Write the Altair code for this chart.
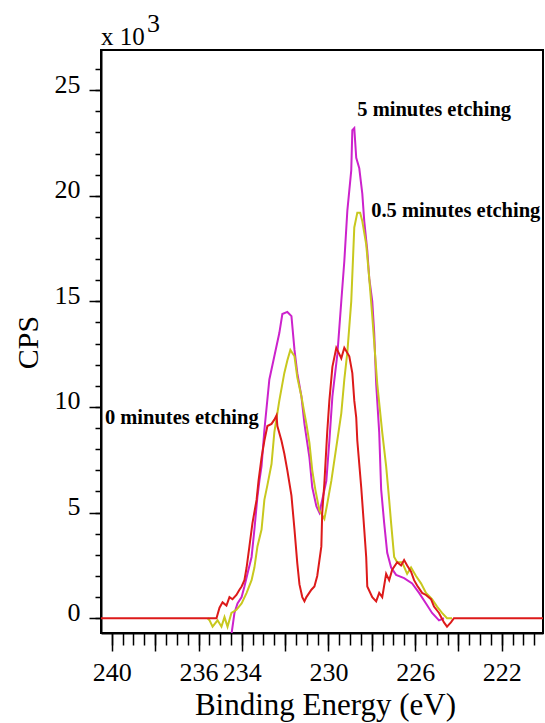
import altair as alt
import pandas as pd

# XPS spectra: (binding energy in eV, counts per second in thousands)
red_0min = [
    (240.5, 0), (235.17, 0), (235.03, 0.5), (234.89, 0.75), (234.71, 0.6),
    (234.57, 1.0), (234.43, 0.9), (234.25, 1.1), (234.11, 1.35), (234.01, 1.5),
    (233.88, 1.8), (233.78, 2.4), (233.65, 3.4), (233.51, 4.5), (233.32, 5.6),
    (233.23, 6.5), (233.09, 7.6), (232.96, 8.4), (232.82, 9.1), (232.63, 9.2),
    (232.50, 9.4), (232.40, 9.6), (232.36, 9.1), (232.17, 8.4), (232.04, 7.8),
    (231.90, 7.0), (231.71, 5.8), (231.57, 4.2), (231.44, 2.6), (231.34, 1.6),
    (231.21, 1.0), (231.11, 0.8), (231.02, 1.0), (230.79, 1.35), (230.65, 1.5),
    (230.52, 2.0), (230.33, 3.4), (230.29, 5.0), (230.19, 6.4), (230.06, 8.8),
    (229.96, 10.3), (229.82, 11.9), (229.64, 12.8), (229.50, 12.5), (229.41, 12.3),
    (229.27, 12.8), (229.04, 12.4), (228.90, 11.6), (228.81, 10.3), (228.72, 9.5),
    (228.67, 8.4), (228.49, 6.2), (228.35, 4.2), (228.26, 2.9), (228.21, 1.5),
    (227.98, 1.0), (227.80, 0.8), (227.66, 1.2), (227.52, 1.0), (227.34, 2.1),
    (227.20, 1.8), (227.06, 2.3), (226.83, 2.65), (226.65, 2.5), (226.51, 2.75),
    (226.37, 2.5), (226.19, 2.2), (226.05, 1.8), (225.91, 1.55), (225.68, 1.2),
    (225.50, 1.1), (225.27, 0.9), (225.13, 0.55), (224.90, 0.25), (224.67, -0.2),
    (224.53, -0.4), (224.35, -0.2), (224.21, 0), (220.1, 0),
]

yellow_05min = [
    (235.58, 0), (235.49, -0.1), (235.35, -0.4), (235.12, -0.1), (234.94, -0.4),
    (234.80, 0.05), (234.66, -0.4), (234.48, 0.25), (234.25, 0.4), (234.01, 0.7),
    (233.78, 1.2), (233.55, 1.8), (233.42, 2.4), (233.28, 3.4), (233.09, 4.2),
    (232.96, 5.6), (232.82, 6.3), (232.63, 7.3), (232.50, 8.8), (232.27, 10.3),
    (232.04, 11.6), (231.90, 12.2), (231.76, 12.7), (231.57, 12.4), (231.44, 11.4),
    (231.25, 10.5), (231.11, 9.7), (231.02, 9.2), (230.88, 8.3), (230.75, 7.0),
    (230.61, 6.1), (230.42, 5.1), (230.19, 4.7), (230.06, 5.4), (229.87, 6.5),
    (229.64, 8.1), (229.41, 9.7), (229.27, 11.3), (229.13, 12.6), (228.95, 15.0),
    (228.81, 18.5), (228.67, 19.2), (228.54, 19.2), (228.44, 18.8), (228.26, 17.7),
    (228.12, 16.1), (227.98, 14.3), (227.75, 11.1), (227.52, 8.8), (227.34, 7.2),
    (227.20, 5.6), (227.11, 4.5), (226.97, 2.9), (226.83, 2.65), (226.60, 2.65),
    (226.37, 2.1), (226.19, 2.4), (225.96, 2.0), (225.73, 1.65), (225.50, 1.2),
    (225.22, 0.9), (224.99, 0.55), (224.76, 0.25), (224.53, 0), (224.30, 0),
]

magenta_5min = [
    (234.47, -0.7), (234.34, 0.25), (234.20, 0.7), (234.01, 1.0), (233.88, 1.5),
    (233.74, 2.1), (233.55, 2.9), (233.42, 4.2), (233.28, 5.75), (233.19, 6.5),
    (233.09, 7.2), (232.96, 8.9), (232.73, 11.3), (232.50, 12.4), (232.27, 13.5),
    (232.13, 14.4), (231.90, 14.5), (231.71, 14.3), (231.57, 12.7), (231.44, 11.6),
    (231.25, 10.5), (231.11, 9.2), (230.88, 7.6), (230.75, 6.2), (230.56, 5.3),
    (230.42, 5.0), (230.29, 5.6), (230.10, 6.5), (229.96, 8.4), (229.82, 10.5),
    (229.59, 12.5), (229.41, 15.0), (229.27, 16.9), (229.13, 19.3), (228.95, 21.2),
    (228.90, 23.1), (228.81, 23.2), (228.72, 21.8), (228.58, 21.3), (228.44, 20.1),
    (228.35, 18.8), (228.21, 17.4), (228.12, 16.1), (227.98, 15.0), (227.89, 13.5),
    (227.80, 11.1), (227.66, 8.8), (227.57, 6.1), (227.43, 4.5), (227.29, 3.1),
    (227.11, 2.4), (226.88, 2.05), (226.51, 1.9), (226.14, 1.65), (225.82, 1.2),
    (225.50, 0.7), (225.22, 0.25), (224.90, -0.1), (224.67, 0),
]

series_names = ["5 minutes etching", "0.5 minutes etching", "0 minutes etching"]
series_colors = ["#CC22CC", "#C8C81E", "#DD1A1A"]
series_data = [magenta_5min, yellow_05min, red_0min]

# Curve labels placed next to the peaks
ann_text = ["5 minutes etching", "0.5 minutes etching", "0 minutes etching"]
ann_ev = [228.67, 228.03, 240.32]
ann_cps = [24.05, 19.3, 9.5]

x_domain = [240.5, 220.1]
y_domain = [-0.7, 26.9]
x_major = [240 - 2 * i for i in range(10)]
x_minor = [240 - 0.5 * i for i in range(40)]
x_labels_shown = [240, 236, 234, 230, 226, 222]
y_major = [0, 5, 10, 15, 20, 25]
y_minor = list(range(0, 27))

rows = []
for name, pts in zip(series_names, series_data):
    for i, (ev, cps) in enumerate(pts):
        rows.append({"series": name, "ev": ev, "cps": cps, "idx": i})
df = pd.DataFrame(rows)

ann_df = pd.DataFrame({"text": ann_text, "ev": ann_ev, "cps": ann_cps})

FONT = "Liberation Serif"
x_scale = alt.Scale(domain=x_domain, nice=False, zero=False)
y_scale = alt.Scale(domain=y_domain, nice=False, zero=False)

# Major ticks with labels and titles
x_axis = alt.Axis(
    orient="bottom",
    values=x_major,
    labelExpr="indexof(" + str(x_labels_shown) + ", datum.value) >= 0 ? datum.label : ''",
    format="d",
    tickSize=18,
    labelPadding=8,
    labelFontSize=26,
    labelOverlap=False,
    labelFlush=False,
    grid=False,
    title="Binding Energy (eV)",
    titleFontSize=31,
    titleFontWeight="normal",
    titleX=224,
    titleY=81,
    titleBaseline="alphabetic",
    titleAlign="center",
)

y_axis = alt.Axis(
    orient="left",
    values=y_major,
    format="d",
    tickSize=12,
    labelPadding=9,
    labelFontSize=26,
    labelBaseline="alphabetic",
    labelOffset=2,
    labelOverlap=False,
    labelFlush=False,
    grid=False,
    title="CPS",
    titleFontSize=30,
    titleFontWeight="normal",
    titleX=-73,
    titleY=292,
    titleAngle=270,
    titleAlign="center",
    titleBaseline="middle",
)

# Minor ticks only
x_minor_axis = alt.Axis(
    orient="bottom", values=x_minor, tickSize=12, labels=False, domain=False,
    grid=False, title=None,
)
y_minor_axis = alt.Axis(
    orient="left", values=y_minor, tickSize=6, labels=False, domain=False,
    grid=False, title=None,
)

lines = alt.Chart(df).mark_line(strokeWidth=2, clip=True).encode(
    x=alt.X("ev:Q", scale=x_scale, axis=x_axis),
    y=alt.Y("cps:Q", scale=y_scale, axis=y_axis),
    color=alt.Color(
        "series:N",
        scale=alt.Scale(domain=series_names, range=series_colors),
        legend=None,
    ),
    detail="series:N",
    order="idx:Q",
)

minor_ticks = alt.Chart(df).mark_point(opacity=0).encode(
    x=alt.X("ev:Q", scale=x_scale, axis=x_minor_axis),
    y=alt.Y("cps:Q", scale=y_scale, axis=y_minor_axis),
)

labels = alt.Chart(ann_df).mark_text(
    align="left", baseline="middle", font=FONT, fontSize=20.5, fontWeight="bold", color="black"
).encode(
    x=alt.X("ev:Q", scale=x_scale, axis=None),
    y=alt.Y("cps:Q", scale=y_scale, axis=None),
    text="text:N",
)

# Axis multiplier "x 10^3" above the y axis
mult_df = pd.DataFrame({"t": ["x 10"]})
exp_df = pd.DataFrame({"t": ["3"]})
mult = alt.Chart(mult_df).mark_text(
    align="left", baseline="alphabetic", font=FONT, fontSize=25, color="black"
).encode(x=alt.value(0), y=alt.value(-5), text="t:N")
expo = alt.Chart(exp_df).mark_text(
    align="left", baseline="alphabetic", font=FONT, fontSize=26, color="black"
).encode(x=alt.value(46), y=alt.value(-18), text="t:N")

chart = (
    alt.layer(minor_ticks, lines, labels, mult, expo)
    .resolve_axis(x="independent", y="independent")
    .properties(
        width=442,
        height=583,
        autosize=alt.AutoSizeParams(type="none"),
        padding={"left": 101, "top": 50, "right": 2, "bottom": 90},
        background="white",
    )
    .configure_view(stroke="black", strokeWidth=2)
    .configure_axis(
        domainColor="black",
        domainWidth=2,
        tickColor="black",
        tickWidth=1.5,
        labelColor="black",
        titleColor="black",
        labelFont=FONT,
        titleFont=FONT,
    )
)

chart.save("out.html", embed_options={"renderer": "svg", "actions": False})
